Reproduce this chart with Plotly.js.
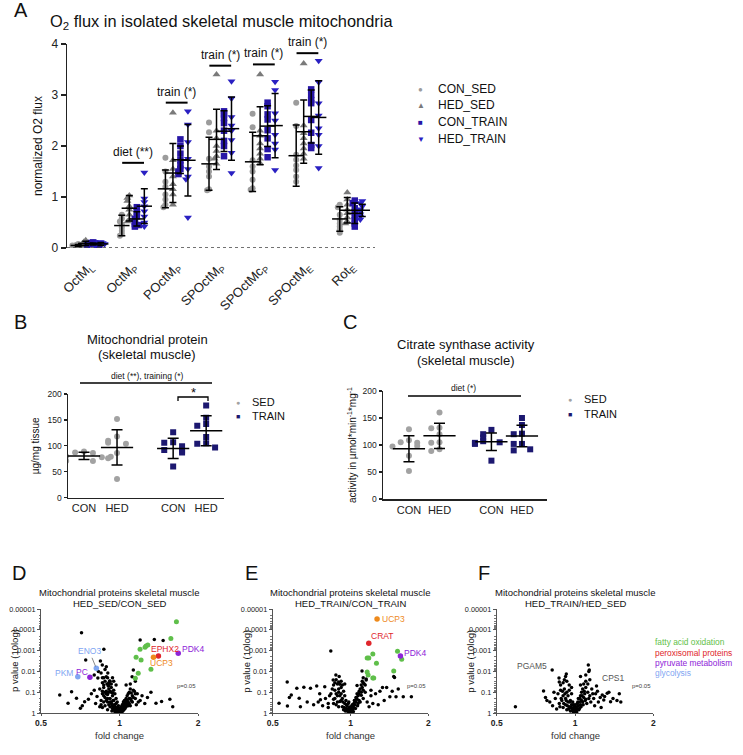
<!DOCTYPE html>
<html><head><meta charset="utf-8">
<script src="https://cdn.plot.ly/plotly-3.0.1.min.js"></script>
<style>html,body{margin:0;padding:0;background:#fff}#chart{width:743px;height:755px}</style>
</head><body><div id="chart"></div>
<script>
// ================= DATA =================
// Panel A: O2 flux (normalized), 7 protocol states x 4 groups
const aCategories = ['OctM<sub>L</sub>','OctM<sub>P</sub>','POctM<sub>P</sub>','SPOctM<sub>P</sub>','SPOctMc<sub>P</sub>','SPOctM<sub>E</sub>','Rot<sub>E</sub>'];
const aSeries = ['CON_SED','HED_SED','CON_TRAIN','HED_TRAIN'];
const aConSed = [
 [0.08,0.06,0.05,0.04,0.03,0.05,0.07,0.02],
 [0.65,0.58,0.52,0.46,0.40,0.34,0.28,0.24],
 [1.77,1.50,1.30,1.20,1.05,0.95,0.85,0.80],
 [2.46,2.27,1.75,1.60,1.50,1.40,1.15,1.13],
 [2.63,2.37,1.72,1.60,1.50,1.34,1.17,1.14],
 [2.85,2.39,1.83,1.73,1.62,1.53,1.40,1.30],
 [0.85,0.80,0.65,0.55,0.48,0.42,0.36,0.30]];
const aHedSed = [
 [0.15,0.12,0.10,0.09,0.08,0.07,0.06,0.05],
 [1.03,0.98,0.92,0.82,0.75,0.65,0.55,0.52],
 [2.65,1.72,1.55,1.40,1.25,1.15,1.05,0.85],
 [3.40,2.30,2.15,2.00,1.90,1.80,1.75,1.65],
 [3.40,2.30,2.20,2.05,1.95,1.85,1.75,1.66],
 [3.62,2.40,2.25,2.15,2.05,1.95,1.85,1.75],
 [1.09,0.95,0.85,0.75,0.68,0.60,0.52,0.48]];
const aConTrain = [
 [0.11,0.10,0.09,0.08,0.07,0.06,0.06,0.05],
 [0.80,0.70,0.62,0.57,0.52,0.47,0.42,0.45],
 [2.13,2.00,1.85,1.72,1.62,1.55,1.50,1.45],
 [2.68,2.62,2.55,2.45,2.30,2.10,2.00,1.80],
 [2.85,2.78,2.62,2.52,2.31,2.15,1.94,1.78],
 [3.11,3.00,2.90,2.84,2.51,2.26,2.02,1.96],
 [0.93,0.88,0.78,0.70,0.62,0.55,0.48,0.42]];
const aHedTrain = [
 [0.12,0.11,0.10,0.09,0.08,0.07,0.06,0.05],
 [1.48,0.97,0.90,0.82,0.72,0.62,0.50,0.42],
 [2.68,2.42,2.08,1.75,1.55,1.40,1.35,0.60],
 [3.27,2.93,2.57,2.40,2.30,2.12,1.87,1.47],
 [3.26,3.10,2.64,2.50,2.22,2.05,1.93,1.53],
 [3.67,3.25,2.84,2.60,2.35,2.22,2.00,1.57],
 [0.92,0.88,0.82,0.76,0.72,0.66,0.62,0.56]];
const aConSedMean   = [0.05,0.44,1.16,1.65,1.69,1.81,0.57];
const aConSedSD     = [0.02,0.20,0.37,0.52,0.58,0.60,0.24];
const aHedSedMean   = [0.09,0.78,1.47,2.13,2.20,2.28,0.74];
const aHedSedSD     = [0.04,0.25,0.58,0.59,0.57,0.62,0.25];
const aConTrainMean = [0.08,0.57,1.73,2.29,2.39,2.58,0.68];
const aConTrainSD   = [0.02,0.14,0.27,0.40,0.40,0.52,0.20];
const aHedTrainMean = [0.08,0.82,1.72,2.34,2.40,2.56,0.74];
const aHedTrainSD   = [0.03,0.34,0.70,0.62,0.63,0.72,0.12];
const aSigLabels = ['diet (**)','train (*)','train (*)','train (*)','train (*)'];
const aSigGroups = [1,2,3,4,5];
const aSigLevels = [1.67,2.85,3.575,3.60,3.82];

// Panel B: mitochondrial protein (µg/mg tissue)
const bcCategories = ['CON','HED','CON','HED'];
const bSedCon   = [89,87,86,80,78,71,71,79];
const bSedHed   = [152,118,110,106,104,86,76,36];
const bTrainCon = [126,107,106,99,92,91,87,60];
const bTrainHed = [178,154,142,139,117,105,104,97];
const bMean = [80.5,97,95,129];
const bSD   = [7,34,19.5,29];

// Panel C: citrate synthase activity
const cSedCon   = [129,109,105,104,98,97,80,52];
const cSedHed   = [160,132,131,120,105,104,92,89];
const cTrainCon = [128,120,114,107,105,104,102,71];
const cTrainHed = [150,137,121,120,102,102,92,90];
const cMean = [93,117,106,116.6];
const cSD   = [24,23.5,16,20];

// Panels D-F: volcano plots [fold change, p value]
const dBlack = [[0.715,1.4e-4],[0.871,8.7e-4],[0.742,2.8e-3],[0.845,3.2e-3],[0.859,4.9e-3],[0.80,0.0148],[0.826,0.021],[0.902,0.012],[0.916,0.029],[0.88,0.008],[0.89,0.018],[0.86,0.035],[0.93,0.04],[0.95,0.03],[0.87,0.045],[0.91,0.047],[0.94,0.02],[1.13,0.0085],[1.118,0.018],[1.2,3.1e-4],[1.36,2.9e-4],[1.47,3.3e-4],[1.10,0.04],[1.06,0.045],[0.97,0.045],[1.15,0.03],[0.89,0.006],[0.83,0.01],
 [0.88,0.03],[0.9,0.02],[0.91,0.035],[0.87,0.02],[0.92,0.03],[0.895,0.04],[0.905,0.05],[0.85,0.012],[0.86,0.02],
 [0.59,0.135],[0.655,0.095],[0.635,0.34],[0.708,0.59],[0.735,0.29],[0.684,0.195],[0.72,0.45],[0.76,0.22],[0.78,0.12],[0.80,0.08],[0.81,0.35],[0.82,0.16],[0.84,0.07],[0.85,0.25],[0.86,0.12],[0.87,0.06],[0.88,0.45],[0.88,0.18],[0.89,0.09],[0.90,0.3],[0.90,0.13],[0.91,0.07],[0.92,0.2],[0.92,0.5],[0.93,0.1],[0.93,0.35],[0.94,0.15],[0.94,0.6],[0.95,0.08],[0.95,0.25],[0.96,0.4],[0.96,0.12],[0.97,0.7],[0.97,0.2],[0.98,0.3],[0.98,0.55],[0.985,0.8],[0.99,0.45],[0.99,0.9],[1.0,0.95],[1.0,0.7],[1.005,0.85],[1.01,0.6],[1.01,0.9],[1.02,0.5],[1.02,0.75],[1.03,0.4],[1.03,0.65],[1.04,0.3],[1.04,0.55],[1.05,0.25],[1.05,0.45],[1.06,0.2],[1.06,0.4],[1.07,0.15],[1.07,0.35],[1.08,0.12],[1.08,0.3],[1.09,0.1],[1.1,0.2],[1.1,0.07],[1.12,0.15],[1.12,0.3],[1.14,0.09],[1.15,0.2],[1.17,0.12],[1.2,0.25],[1.22,0.15],[1.25,0.35],[1.28,0.18],[1.38,0.34],[1.56,0.22],[1.6,0.5],[1.32,0.1],[1.45,0.28],[0.93,0.06],[0.91,0.1],[0.89,0.25],[0.95,0.5],[0.96,0.75],[0.975,0.9],[0.985,0.6],[0.995,0.75],[1.015,0.8],[1.025,0.6],[1.035,0.5],[1.045,0.4],[1.065,0.28],[1.09,0.2],[1.11,0.11],[1.13,0.08],[1.18,0.3],[0.87,0.3],[0.86,0.55],[0.9,0.7],[0.92,0.09],[0.94,0.11],
 [0.93,0.3],[0.94,0.45],[0.95,0.65],[0.96,0.85],[0.965,0.55],[0.97,0.35],[0.975,0.6],[0.98,0.8],[0.99,0.65],[0.995,0.95],[1.0,0.85],[1.005,0.6],[1.01,0.75],[1.015,0.5],[1.02,0.9],[1.025,0.4],[1.03,0.8],[1.035,0.3],[1.04,0.7],[1.045,0.25],[1.05,0.6],[1.055,0.35],[1.06,0.5],[1.07,0.25],[1.08,0.45],[0.92,0.3],[0.91,0.4],[0.9,0.2],[0.89,0.12],[0.88,0.1],[0.87,0.15],[0.86,0.09],[0.85,0.4],[0.84,0.5],[0.935,0.8],[0.945,0.25],[0.955,0.4],[1.09,0.35],[1.1,0.45],[1.11,0.25],[1.13,0.18],[1.15,0.12],[1.16,0.4]];
const dFatty = [[1.653,4.1e-5],[1.574,2.6e-4],[1.264,6e-4],[1.253,6.9e-4],[1.284,5.4e-4],[1.199,8.7e-4],[1.158,2.1e-3],[1.21,2.8e-3],[1.32,7.9e-3],[1.18,0.0123],[1.15,0.0214]];
const dLabeled = [['EPHX2',1.41,0.0018,'perox'],['UCP3',1.35,0.0021,'ucp'],['PDK4',1.68,0.00135,'pyr'],['PC',0.77,0.019,'pyr'],['ENO3',0.815,0.0071,'gly'],['PKM',0.692,0.018,'gly']];

const eBlack = [[0.839,1.05e-3],[1.47,0.0178],[1.15,0.0234],[0.878,0.0148],[0.904,0.0178],[0.857,0.0257],[0.92,0.03],[0.89,0.04],[0.93,0.045],[0.87,0.035],[1.108,0.0095],[1.15,0.0257],[1.12,0.035],[1.1,0.045],[1.13,0.04],[1.48,0.0195],[0.569,0.032],[0.95,0.04],[1.06,0.048],
 [0.88,0.025],[0.9,0.032],[0.86,0.045],[0.91,0.042],[1.11,0.03],[1.14,0.045],[1.12,0.02],
 [0.529,0.34],[0.58,0.18],[0.59,0.135],[0.57,0.46],[0.633,0.195],[0.66,0.058],[0.70,0.065],[0.74,0.05],[0.795,0.055],[0.765,0.23],[0.62,0.065],[0.64,0.5],[0.68,0.3],[0.72,0.4],[0.76,0.12],[0.8,0.2],[0.82,0.35],[0.84,0.12],[0.86,0.22],[0.87,0.08],[0.88,0.4],[0.89,0.15],[0.9,0.07],[0.91,0.28],[0.92,0.12],[0.93,0.5],[0.93,0.2],[0.94,0.09],[0.95,0.35],[0.95,0.15],[0.96,0.6],[0.96,0.25],[0.97,0.45],[0.97,0.8],[0.98,0.35],[0.98,0.65],[0.99,0.9],[0.99,0.55],[1.0,0.98],[1.0,0.75],[1.01,0.85],[1.01,0.6],[1.02,0.7],[1.02,0.45],[1.03,0.55],[1.03,0.35],[1.04,0.4],[1.04,0.25],[1.05,0.3],[1.05,0.18],[1.06,0.22],[1.06,0.12],[1.07,0.15],[1.07,0.35],[1.08,0.09],[1.08,0.25],[1.09,0.07],[1.1,0.14],[1.11,0.06],[1.12,0.2],[1.14,0.1],[1.16,0.3],[1.2,0.15],[1.25,0.12],[1.3,0.09],[1.33,0.06],[1.38,0.06],[1.35,0.25],[1.42,0.166],[1.45,0.09],[1.5,0.166],[1.53,0.071],[1.6,0.166],[1.72,0.166],[1.2,0.08],[1.28,0.4],[0.92,0.06],[0.9,0.5],[0.85,0.07],[0.82,0.55],[0.94,0.7],[1.0,0.5],[1.015,0.95],[0.985,0.95],
 [0.935,0.3],[0.945,0.55],[0.955,0.8],[0.965,0.4],[0.975,0.65],[0.985,0.3],[0.995,0.8],[1.005,0.65],[1.015,0.4],[1.025,0.85],[1.035,0.25],[1.045,0.6],[1.055,0.2],[1.065,0.45],[1.075,0.12],[1.09,0.3],[1.1,0.1],[1.12,0.08],[0.92,0.25],[0.91,0.15],[0.9,0.1],[0.89,0.3],[0.88,0.12],[0.87,0.2],[0.86,0.35],[0.83,0.15],[0.78,0.45],[0.75,0.3],[1.18,0.5],[1.22,0.35]];
const eFatty = [[1.52,1.07e-3],[1.578,2.6e-3],[1.22,1.45e-3],[1.16,2.3e-3],[1.177,2.3e-3],[1.26,4.1e-3],[1.47,9.5e-3],[1.16,0.0107],[1.17,0.0148],[1.22,0.0209],[1.23,0.021]];
const eLabeled = [['UCP3',1.267,3e-5,'ucp'],['CRAT',1.177,4.4e-4,'perox'],['PDK4',1.56,1.8e-3,'pyr']];

const fBlack = [[1.125,0.0049],[1.13,0.0102],[1.135,0.0085],[1.05,0.0178],[0.926,0.0132],[0.92,0.0178],[0.868,0.021],[1.1,0.03],[1.12,0.04],[0.9,0.035],[0.88,0.045],[1.05,0.045],[0.91,0.025],[0.93,0.03],[1.1,0.015],[1.14,0.025],[1.08,0.04],[0.95,0.045],[0.87,0.032],
 [0.757,0.087],[0.77,0.178],[0.59,0.5],[1.273,0.135],[1.33,0.112],[1.29,0.234],[1.37,0.288],[1.45,0.25],[1.25,0.18],[1.22,0.09],[0.8,0.3],[0.84,0.2],[0.82,0.45],[0.85,0.65],[0.86,0.12],[0.87,0.35],[0.88,0.08],[0.89,0.25],[0.9,0.55],[0.9,0.15],[0.91,0.07],[0.92,0.4],[0.92,0.2],[0.93,0.1],[0.93,0.7],[0.94,0.3],[0.94,0.15],[0.95,0.5],[0.95,0.08],[0.96,0.25],[0.96,0.8],[0.97,0.4],[0.97,0.12],[0.98,0.6],[0.98,0.3],[0.99,0.9],[0.99,0.5],[1.0,0.97],[1.0,0.7],[1.01,0.8],[1.01,0.5],[1.02,0.65],[1.02,0.35],[1.03,0.45],[1.03,0.2],[1.04,0.3],[1.04,0.6],[1.05,0.15],[1.05,0.4],[1.06,0.1],[1.06,0.25],[1.07,0.07],[1.07,0.3],[1.08,0.18],[1.09,0.12],[1.1,0.06],[1.1,0.22],[1.12,0.1],[1.14,0.15],[1.16,0.07],[1.18,0.2],[1.2,0.12],[1.23,0.3],[1.3,0.16],[1.35,0.1],[1.4,0.2],[1.48,0.12],[1.5,0.3],[0.78,0.25],[0.97,0.06],[1.0,0.4],[0.985,0.85],[1.015,0.9],
 [0.935,0.45],[0.945,0.65],[0.955,0.3],[0.965,0.55],[0.975,0.75],[0.985,0.4],[0.995,0.6],[1.005,0.85],[1.015,0.6],[1.025,0.3],[1.035,0.7],[1.045,0.2],[1.055,0.5],[1.065,0.15],[1.075,0.4],[1.085,0.09],[1.095,0.25],[0.925,0.25],[0.915,0.12],[0.905,0.35],[0.895,0.09],[0.885,0.2],[0.875,0.5],[0.83,0.1],[1.11,0.35],[1.13,0.2],[1.15,0.3],[1.17,0.12],[1.19,0.45],[1.26,0.55]];
const fLabeled = [['PGAM5',0.817,0.0085,'plain'],['CPS1',1.21,0.05,'plain']];
const volcanoTitles = ['HED_SED/CON_SED','HED_TRAIN/CON_TRAIN','HED_TRAIN/HED_SED'];
const pathwayNames = ['fatty acid oxidation','peroxisomal proteins','pyruvate metabolism','glycolysis'];

// ================= STYLE / LAYOUT =================
const W = 743, H = 755;
const FONT = 'Liberation Sans, Arial, sans-serif';
const px = x => x / W, py = y => 1 - y / H;
const colors = {conSed:'#9c9c9c', hedSed:'#7a7a7a', conTrain:'#2716a6', hedTrain:'#2a20c2',
  sed:'#a2a2a2', train:'#1c1870', fatty:'#5fbf4a', perox:'#e0262c', pyr:'#8e24d8', gly:'#7fa6f2', ucp:'#ee8a1c', plain:'#000'};
const labelColor = {perox:colors.perox, pyr:colors.pyr, gly:colors.gly, ucp:colors.ucp, plain:'#555'};

function swarm(vals, thr, step) {
  const pat = [0,-1,1,-2,2,-3,3];
  return vals.map((v,i) => { let c = 0; for (let j=0;j<i;j++) if (Math.abs(vals[j]-v) < thr) c++; return pat[Math.min(c,6)]*step; });
}

const traces = [];
const shapes = [];
const annotations = [];
function ann(text, x, y, o={}) {
  annotations.push(Object.assign({text, x:px(x), y:py(y), xref:'paper', yref:'paper', showarrow:false,
    xanchor:o.xa||'center', yanchor:o.ya||'middle', textangle:o.angle||0,
    font:{family:FONT, size:o.size||12, color:o.color||'#111'}}, o.extra||{}));
}

// ---- Panel A ----
const aData = [aConSed, aHedSed, aConTrain, aHedTrain];
const aMeans = [aConSedMean, aHedSedMean, aConTrainMean, aHedTrainMean];
const aSDs = [aConSedSD, aHedSedSD, aConTrainSD, aHedTrainSD];
const aSym = ['circle','triangle-up','square','triangle-down'];
const aSize = [6,7,6.5,7];
const aCol = [colors.conSed, colors.hedSed, colors.conTrain, colors.hedTrain];
const aOff = 0.172;
aData.forEach((series, s) => {
  const xs = [], ys = [];
  series.forEach((vals, g) => {
    const off = swarm(vals, 0.06, 0.045);
    vals.forEach((v,i) => { xs.push(g + (s-1.5)*aOff + off[i]); ys.push(v); });
  });
  traces.push({type:'scatter', mode:'markers', x:xs, y:ys, xaxis:'x', yaxis:'y', name:aSeries[s], showlegend:false,
    marker:{symbol:aSym[s], size:aSize[s], color:aCol[s]}, hoverinfo:'skip'});
});
aData.forEach((series, s) => {
  traces.push({type:'scatter', mode:'markers', x:aMeans[s].map((m,g)=>g+(s-1.5)*aOff), y:aMeans[s], xaxis:'x', yaxis:'y', showlegend:false,
    marker:{symbol:'line-ew', size:11, color:'#000', line:{width:1.5, color:'#000'}},
    error_y:{type:'data', array:aSDs[s], visible:true, color:'#000', thickness:1.5, width:3.5}, hoverinfo:'skip'});
});
aSigGroups.forEach((g,i) => {
  shapes.push({type:'line', xref:'x', yref:'y', x0:g-0.25, x1:g+0.25, y0:aSigLevels[i], y1:aSigLevels[i], line:{color:'#000', width:2}});
  annotations.push({text:aSigLabels[i], x:g, y:aSigLevels[i], xref:'x', yref:'y', showarrow:false, yanchor:'bottom', yshift:2,
    font:{family:FONT, size:12, color:'#111'}});
});
shapes.push({type:'line', xref:'x domain', yref:'y', x0:0, x1:1, y0:0, y1:0, line:{color:'#444', width:1.5, dash:'dot'}});
ann('O<sub>2</sub> flux in isolated skeletal muscle mitochondria', 48, 22, {xa:'left', size:16.4});
const aLegSym = ['●','▲','■','▼'];
aSeries.forEach((n,i) => {
  const y = [89,105,122,139][i];
  ann(aLegSym[i], 421, y, {size:8, color:aCol[i]});
  ann(n, 436, y, {xa:'left', size:12});
});

// ---- Panels B and C ----
const bcPos = [0,1,2.7,3.7];
function dotPanel(xa, ya, sedGroups, trainGroups, means, sds, thr) {
  [[sedGroups,'circle',colors.sed,[0,1]],[trainGroups,'square',colors.train,[2,3]]].forEach(([groups,sym,col,idx]) => {
    const xs=[], ys=[];
    groups.forEach((vals,k) => { const off = swarm(vals, thr, 0.27); vals.forEach((v,i)=>{ xs.push(bcPos[idx[k]]+off[i]); ys.push(v); }); });
    traces.push({type:'scatter', mode:'markers', x:xs, y:ys, xaxis:xa, yaxis:ya, showlegend:false,
      marker:{symbol:sym, size:6, color:col}, hoverinfo:'skip'});
  });
  traces.push({type:'scatter', mode:'markers', x:bcPos, y:means, xaxis:xa, yaxis:ya, showlegend:false,
    marker:{symbol:'line-ew', size:23, color:'#000', line:{width:1.5, color:'#000'}},
    error_y:{type:'data', array:sds, visible:true, color:'#000', thickness:1.5, width:5.5}, hoverinfo:'skip'});
}
dotPanel('x2','y2',[bSedCon,bSedHed],[bTrainCon,bTrainHed],bMean,bSD,12);
dotPanel('x3','y3',[cSedCon,cSedHed],[cTrainCon,cTrainHed],cMean,cSD,11);

ann('Mitochondrial protein', 147, 339, {size:13});
ann('(skeletal muscle)', 147, 354, {size:13});
ann('diet (**), training (*)', 147, 376, {size:8.5});
shapes.push({type:'line', xref:'paper', yref:'paper', x0:px(80), x1:px(212), y0:py(383), y1:py(383), line:{color:'#000', width:1.5}});
shapes.push({type:'path', xref:'paper', yref:'paper', path:`M${px(178)},${py(401)} L${px(178)},${py(397)} L${px(208)},${py(397)} L${px(208)},${py(401)}`, line:{color:'#000', width:1.3}});
ann('*', 193, 392, {size:13});
ann('●', 238, 402, {size:7, color:colors.sed}); ann('SED', 250, 402, {xa:'left', size:11});
ann('■', 238, 416, {size:7, color:colors.train}); ann('TRAIN', 250, 416, {xa:'left', size:11});

ann('Citrate synthase activity', 466, 344, {size:13});
ann('(skeletal muscle)', 466, 360, {size:13});
ann('diet (*)', 463, 388, {size:8.5});
shapes.push({type:'line', xref:'paper', yref:'paper', x0:px(408), x1:px(521), y0:py(396), y1:py(396), line:{color:'#000', width:1.5}});
ann('●', 570, 399, {size:7, color:colors.sed}); ann('SED', 582, 399, {xa:'left', size:11});
ann('■', 570, 414, {size:7, color:colors.train}); ann('TRAIN', 582, 414, {xa:'left', size:11});

// ---- Volcano panels ----
const volc = [
  {xa:'x4', ya:'y4', left:41, right:198, black:dBlack, fatty:dFatty, labeled:dLabeled, title:volcanoTitles[0]},
  {xa:'x5', ya:'y5', left:272.7, right:428.3, black:eBlack, fatty:eFatty, labeled:eLabeled, title:volcanoTitles[1]},
  {xa:'x6', ya:'y6', left:496.7, right:653.3, black:fBlack, fatty:[], labeled:fLabeled, title:volcanoTitles[2]}];
const labelOffsets = {
  'x4':{EPHX2:[7,7,'center'], UCP3:[8,-6,'center'], PDK4:[2,4,'left'], PC:[0,5,'right'], PKM:[-3,4,'right']},
  'x5':{UCP3:[3,0,'left'], CRAT:[0,7,'left'], PDK4:[2,3,'left']},
  'x6':{PGAM5:[-3,4,'right'], CPS1:[3,8,'left']}};
volc.forEach(v => {
  const xr = v.xa, yr = v.ya;
  const xd = xr + ' domain', yd = yr + ' domain';
  shapes.push({type:'rect', xref:xr, yref:yd, x0:Math.log10(0.87), x1:Math.log10(1.15), y0:0, y1:1, fillcolor:'rgba(0,0,0,0.085)', line:{width:0}, layer:'below'});
  shapes.push({type:'rect', xref:xd, yref:yr, x0:0, x1:1, y0:0, y1:Math.log10(0.05), fillcolor:'rgba(0,0,0,0.08)', line:{width:0}, layer:'below'});
  shapes.push({type:'line', xref:xr, yref:yd, x0:0, x1:0, y0:0, y1:1, line:{color:'#b5b5b5', width:0.8}, layer:'below'});
  shapes.push({type:'line', xref:xd, yref:yr, x0:0, x1:1, y0:Math.log10(0.05), y1:Math.log10(0.05), line:{color:'#c8c8c8', width:0.6}, layer:'below'});
  annotations.push({text:'p=0.05', xref:xd, yref:yr, x:1, y:Math.log10(0.05), xanchor:'right', yanchor:'middle', showarrow:false,
    font:{family:FONT, size:6, color:'#444'}});
  traces.push({type:'scatter', mode:'markers', x:v.black.map(d=>d[0]), y:v.black.map(d=>d[1]), xaxis:xr, yaxis:yr, showlegend:false,
    marker:{size:3.5, color:'#000'}, hoverinfo:'skip'});
  if (v.fatty.length) traces.push({type:'scatter', mode:'markers', x:v.fatty.map(d=>d[0]), y:v.fatty.map(d=>d[1]), xaxis:xr, yaxis:yr, showlegend:false,
    marker:{size:5, color:colors.fatty}, hoverinfo:'skip'});
  v.labeled.forEach(([name, fc, p, cat]) => {
    traces.push({type:'scatter', mode:'markers', x:[fc], y:[p], xaxis:xr, yaxis:yr, showlegend:false,
      marker:{size:cat==='plain'?3.5:5.5, color:cat==='plain'?'#000':labelColor[cat]}, hoverinfo:'skip'});
    if (name === 'ENO3') {
      annotations.push({text:name, xref:xr, yref:yr, x:Math.log10(fc), y:Math.log10(p), showarrow:true, arrowhead:0, arrowwidth:0.7,
        arrowcolor:'#555', ax:-7, ay:-17, standoff:2, font:{family:FONT, size:8.5, color:labelColor[cat]}});
    } else {
      const o = labelOffsets[xr][name];
      annotations.push({text:name, xref:xr, yref:yr, x:Math.log10(fc), y:Math.log10(p), showarrow:false, xanchor:o[2], yanchor:'middle',
        xshift:o[0], yshift:o[1], font:{family:FONT, size:8.5, color:labelColor[cat]}});
    }
  });
  const cx = (v.left + v.right)/2;
  ann('Mitochondrial proteins skeletal muscle', cx, 592, {size:9.5});
  ann(v.title, cx, 603.5, {size:9.5});
  ann('p value (10log)', v.left - 27, 661, {size:9.5, angle:-90});
  ann('fold change', cx, 735, {size:9.5, color:'#333'});
});
pathwayNames.forEach((n,i) => ann(n, 653, [642,652.5,663,673][i], {xa:'left', size:8.4, color:[colors.fatty,colors.perox,colors.pyr,colors.gly][i]}));

ann('A', 12, 10, {xa:'left', size:20}); ann('B', 12, 322, {xa:'left', size:20}); ann('C', 341, 322, {xa:'left', size:20});
ann('D', 10, 573, {xa:'left', size:20}); ann('E', 243, 573, {xa:'left', size:20}); ann('F', 476, 573, {xa:'left', size:20});

// ================= AXES =================
const baseAx = {showgrid:false, zeroline:false, linecolor:'#222', tickcolor:'#222', tickfont:{family:FONT, color:'#222'}};
const layout = {
  width:W, height:H, margin:{l:0,r:0,t:0,b:0}, paper_bgcolor:'#fff', plot_bgcolor:'rgba(0,0,0,0)',
  font:{family:FONT, color:'#111'}, showlegend:false, shapes, annotations,
  xaxis: Object.assign({}, baseAx, {domain:[px(67),px(375)], range:[-0.516,6.55], tickvals:[0,1,2,3,4,5,6], ticktext:aCategories,
    tickangle:-45, showline:false, ticks:'', ticklabelstandoff:8, tickfont:{family:FONT, size:13, color:'#222'}, anchor:'y'}),
  yaxis: Object.assign({}, baseAx, {domain:[py(248),py(44)], range:[0,4], dtick:1, showline:true, linewidth:1.5, ticks:'outside',
    ticklen:5, tickwidth:1.5, tickfont:{family:FONT, size:12, color:'#222'}, anchor:'x',
    title:{text:'normalized O2 flux', font:{family:FONT, size:12, color:'#111'}, standoff:6}}),
  xaxis2: Object.assign({}, baseAx, {domain:[px(68),px(224)], range:[-0.485,4.24], tickvals:bcPos, ticktext:bcCategories,
    showline:true, linewidth:1.5, ticks:'', tickfont:{family:FONT, size:11, color:'#222'}, anchor:'y2'}),
  yaxis2: Object.assign({}, baseAx, {domain:[py(497.7),py(394)], range:[0,200], dtick:50, showline:true, linewidth:1.5, ticks:'outside',
    ticklen:3, tickwidth:1.2, tickfont:{family:FONT, size:8.5, color:'#222'}, anchor:'x2',
    title:{text:'µg/mg tissue', font:{family:FONT, size:10, color:'#111'}, standoff:6}}),
  xaxis3: Object.assign({}, baseAx, {domain:[px(383),px(547)], range:[-0.85,4.52], tickvals:bcPos, ticktext:bcCategories,
    showline:true, linewidth:1.5, ticks:'', tickfont:{family:FONT, size:11, color:'#222'}, anchor:'y3'}),
  yaxis3: Object.assign({}, baseAx, {domain:[py(499),py(391)], range:[0,200], dtick:50, showline:true, linewidth:1.5, ticks:'outside',
    ticklen:3, tickwidth:1.2, tickfont:{family:FONT, size:8.5, color:'#222'}, anchor:'x3',
    title:{text:'activity in µmol*min<sup>-1</sup>*mg<sup>-1</sup>', font:{family:FONT, size:10, color:'#111'}, standoff:4}})
};
volc.forEach((v,i) => {
  const n = i + 4;
  layout['xaxis'+n] = Object.assign({}, baseAx, {domain:[px(v.left),px(v.right)], type:'log', range:[Math.log10(0.5),Math.log10(2)],
    tickvals:[0.5,1,2], ticktext:['<b>0.5</b>','<b>1</b>','<b>2</b>'], showline:true, linewidth:1, linecolor:'#555', ticks:'outside', ticklen:2,
    tickcolor:'#555', tickfont:{family:FONT, size:8.5, color:'#222'}, anchor:'y'+n});
  layout['yaxis'+n] = Object.assign({}, baseAx, {domain:[py(713),py(609)], type:'log', range:[0,-5],
    tickvals:[1e-5,1e-4,1e-3,1e-2,0.1,1], ticktext:['0.00001','0.0001','0.001','0.01','0.1','1'], showline:true, linewidth:1,
    linecolor:'#555', ticks:'outside', ticklen:3, tickcolor:'#555', tickfont:{family:FONT, size:7.3, color:'#222'}, anchor:'x'+n,
    minor:{ticks:'outside', ticklen:1.5, tickcolor:'#777', dtick:'D1'}});
});

Plotly.newPlot('chart', traces, layout, {staticPlot:true});
</script></body></html>
